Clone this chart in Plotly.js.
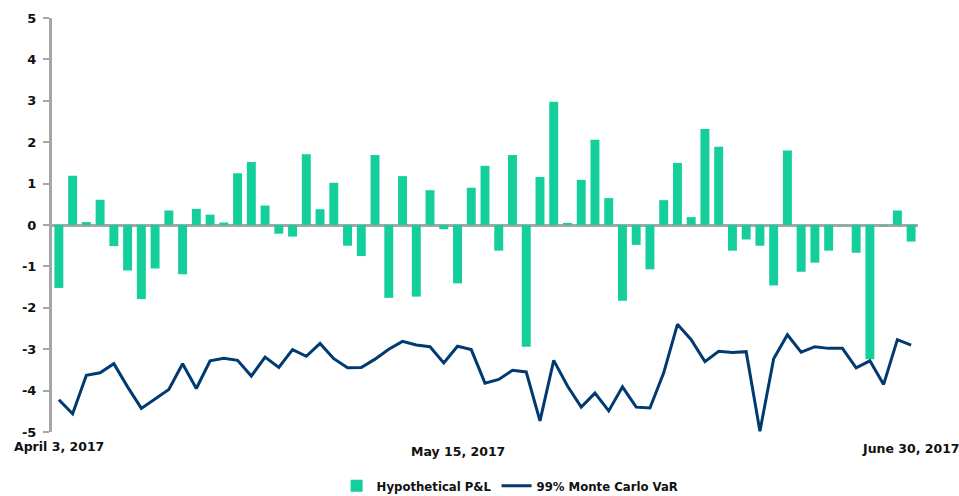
<!DOCTYPE html>
<html>
<head>
<meta charset="utf-8">
<script src="https://cdn.plot.ly/plotly-3.0.1.min.js"></script>
<style>html,body{margin:0;padding:0;background:#fff;}#chart{width:959px;height:496px;}</style>
</head>
<body>
<div id="chart"></div>
<script>
const dates = [
  "2017-04-03","2017-04-04","2017-04-05","2017-04-06","2017-04-07",
  "2017-04-10","2017-04-11","2017-04-12","2017-04-13",
  "2017-04-17","2017-04-18","2017-04-19","2017-04-20","2017-04-21",
  "2017-04-24","2017-04-25","2017-04-26","2017-04-27","2017-04-28",
  "2017-05-01","2017-05-02","2017-05-03","2017-05-04","2017-05-05",
  "2017-05-08","2017-05-09","2017-05-10","2017-05-11","2017-05-12",
  "2017-05-15","2017-05-16","2017-05-17","2017-05-18","2017-05-19",
  "2017-05-22","2017-05-23","2017-05-24","2017-05-25","2017-05-26",
  "2017-05-30","2017-05-31","2017-06-01","2017-06-02",
  "2017-06-05","2017-06-06","2017-06-07","2017-06-08","2017-06-09",
  "2017-06-12","2017-06-13","2017-06-14","2017-06-15","2017-06-16",
  "2017-06-19","2017-06-20","2017-06-21","2017-06-22","2017-06-23",
  "2017-06-26","2017-06-27","2017-06-28","2017-06-29","2017-06-30"
];
const hypotheticalPL = [
  -1.52, 1.19, 0.07, 0.61, -0.51, -1.10, -1.79, -1.05, 0.35, -1.19,
  0.39, 0.25, 0.06, 1.25, 1.52, 0.47, -0.21, -0.28, 1.71, 0.38,
  1.02, -0.50, -0.75, 1.69, -1.76, 1.18, -1.73, 0.84, -0.10, -1.41,
  0.90, 1.43, -0.62, 1.69, -2.94, 1.16, 2.98, 0.05, 1.09, 2.06,
  0.65, -1.83, -0.48, -1.07, 0.60, 1.50, 0.19, 2.32, 1.89, -0.62,
  -0.35, -0.50, -1.46, 1.80, -1.13, -0.91, -0.62, -0.01, -0.67, -3.24,
  -0.02, 0.35, -0.40
];
const monteCarloVaR = [
  -4.22, -4.56, -3.63, -3.57, -3.35, -3.91, -4.43, -4.20, -3.97, -3.35,
  -3.95, -3.28, -3.22, -3.27, -3.65, -3.19, -3.44, -3.01, -3.17, -2.86,
  -3.23, -3.45, -3.44, -3.24, -3.00, -2.81, -2.90, -2.94, -3.33, -2.93,
  -3.01, -3.82, -3.73, -3.51, -3.55, -4.73, -3.27, -3.89, -4.40, -4.06,
  -4.49, -3.91, -4.40, -4.42, -3.57, -2.40, -2.77, -3.30, -3.05, -3.08,
  -3.06, -4.98, -3.23, -2.65, -3.07, -2.94, -2.98, -2.98, -3.45, -3.28,
  -3.85, -2.77, -2.90
];
const seriesNames = ["Hypothetical P&L", "99% Monte Carlo VaR"];
const yTickVals = [-5, -4, -3, -2, -1, 0, 1, 2, 3, 4, 5];
const yTickText = ["-5", "-4", "-3", "-2", "-1", "0", "1", "2", "3", "4", "5"];
const xLabelIdx = [0, 29, 62];
const xLabelText = ["April 3, 2017", "May 15, 2017", "June 30, 2017"];
const xLabelY = [-0.034, -0.046, -0.041];

const traces = [
  {
    type: "bar", x: dates, y: hypotheticalPL, name: seriesNames[0],
    marker: {color: "#14CF9B"}
  },
  {
    type: "scatter", mode: "lines", x: dates, y: monteCarloVaR, name: seriesNames[1],
    line: {color: "#003A70", width: 3}
  }
];

const annotations = xLabelIdx.map((idx, k) => ({
  x: dates[idx], xref: "x", y: xLabelY[k], yref: "paper",
  text: xLabelText[k], showarrow: false, xanchor: "center", yanchor: "middle",
  font: {family: "DejaVu Sans", size: 12.5, color: "#111", weight: "bold"}
}));

const layout = {
  width: 959, height: 496,
  margin: {l: 52, r: 41, t: 18, b: 64, autoexpand: false},
  paper_bgcolor: "#fff", plot_bgcolor: "#fff",
  bargap: 0.35,
  showlegend: true,
  legend: {
    orientation: "h", x: 0.529, xanchor: "center", y: -0.094, yanchor: "top",
    font: {family: "DejaVu Sans Condensed", size: 13, color: "#111", weight: "bold"},
    traceorder: "normal"
  },
  xaxis: {
    type: "category", range: [-0.5, 62.5], showline: false, showgrid: false,
    zeroline: false, showticklabels: false, ticks: ""
  },
  yaxis: {
    range: [-5, 5], tickmode: "array", tickvals: yTickVals, ticktext: yTickText,
    showgrid: false,
    showline: true, linecolor: "#A6A6A6", linewidth: 3,
    ticks: "outside", ticklen: 6, tickwidth: 2, tickcolor: "#A6A6A6",
    zeroline: true, zerolinecolor: "#A6A6A6", zerolinewidth: 3,
    tickfont: {family: "DejaVu Sans", size: 13, color: "#111", weight: "bold"},
    ticklabelstandoff: 4
  },
  annotations: annotations
};

Plotly.newPlot("chart", traces, layout, {displayModeBar: false, staticPlot: true});
</script>
</body>
</html>
